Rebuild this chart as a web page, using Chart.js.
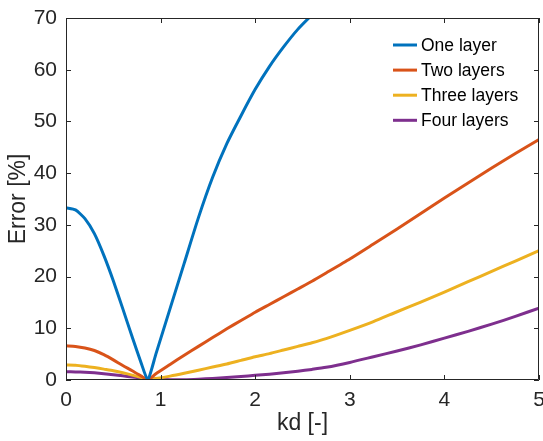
<!DOCTYPE html>
<html>
<head>
<meta charset="utf-8">
<script src="https://cdn.jsdelivr.net/npm/chart.js@4"></script>
<style>
  html, body { margin: 0; padding: 0; background: #fff; }
  #wrap { width: 543px; height: 441px; }
</style>
</head>
<body>
<div id="wrap"><canvas id="errChart" width="543" height="441"></canvas></div>
<script>
// kd values shared by all curves
const kd = [0, 0.1, 0.2, 0.3, 0.4, 0.5, 0.6, 0.7, 0.8, 0.864, 0.95, 1.1, 1.25, 1.4, 1.55, 1.7, 1.85, 2.0,
            2.15, 2.3, 2.45, 2.6, 2.75, 3.0, 3.25, 3.5, 3.75, 4.0, 4.25, 4.5, 4.75, 5.0];

// error [%] for each number of layers (one layer leaves the plot above 70)
const oneLayer = [33.3, 32.9, 31.2, 28.3, 24.1, 19.2, 13.8, 8.3, 3.0, 0, 5.0, 13.8, 22.6, 31.4, 39.2, 45.7, 51.1, 56.2,
                  60.6, 64.4, 67.8, 70.6, 73.2, null, null, null, null, null, null, null, null, null];
const twoLayers = [6.6, 6.5, 6.2, 5.7, 4.9, 3.9, 2.8, 1.8, 0.7, 0, 1.2, 3.0, 4.8, 6.5, 8.2, 9.9, 11.5, 13.1,
                   14.6, 16.1, 17.6, 19.1, 20.7, 23.4, 26.3, 29.2, 32.2, 35.2, 38.1, 41.0, 43.8, 46.5];
const threeLayers = [2.9, 2.85, 2.65, 2.4, 2.1, 1.8, 1.4, 0.95, 0.45, 0.1, 0.3, 0.75, 1.3, 1.9, 2.5, 3.1, 3.8, 4.5,
                     5.1, 5.8, 6.5, 7.2, 8.0, 9.6, 11.3, 13.2, 15.05, 17.0, 19.0, 21.0, 23.0, 25.0];
const fourLayers = [1.6, 1.57, 1.5, 1.38, 1.22, 1.02, 0.8, 0.58, 0.4, 0.3, 0.17, 0.05, 0.05, 0.15, 0.3, 0.48, 0.68, 0.9,
                    1.13, 1.4, 1.7, 2.05, 2.45, 3.4, 4.5, 5.6, 6.8, 8.1, 9.4, 10.8, 12.3, 13.9];

const seriesNames = ['One layer', 'Two layers', 'Three layers', 'Four layers'];
const seriesValues = [oneLayer, twoLayers, threeLayers, fourLayers];
const colors = ['#0072BD', '#D95319', '#EDB120', '#7E2F8E'];

const xTicks = [0, 1, 2, 3, 4, 5];
const yTicks = [0, 10, 20, 30, 40, 50, 60, 70];

const FONT = 'Arial, "Liberation Sans", Helvetica, sans-serif';

function toPoints(vals) {
    return vals.map((v, i) => ({ x: kd[i], y: v }));
}

// box round the axes with small ticks pointing inward (matlab style)
const boxTicks = {
    id: 'boxTicks',
    afterDraw(chart) {
        const { ctx, chartArea: a, scales } = chart;
        ctx.save();
        ctx.strokeStyle = '#262626';
        ctx.lineWidth = 1;
        ctx.beginPath();
        ctx.rect(a.left + 0.5, a.top + 0.5, a.right - a.left - 1, a.bottom - a.top - 1);
        const len = 5;
        xTicks.forEach(t => {
            const x = Math.round(scales.x.getPixelForValue(t)) + 0.5;
            ctx.moveTo(x, a.bottom); ctx.lineTo(x, a.bottom - len);
            ctx.moveTo(x, a.top); ctx.lineTo(x, a.top + len);
        });
        yTicks.forEach(t => {
            const y = Math.round(scales.y.getPixelForValue(t)) + 0.5;
            ctx.moveTo(a.left, y); ctx.lineTo(a.left + len, y);
            ctx.moveTo(a.right, y); ctx.lineTo(a.right - len, y);
        });
        ctx.stroke();
        ctx.restore();
    }
};

// legend drawn inside the plot, top right, no frame
const innerLegend = {
    id: 'innerLegend',
    afterDraw(chart) {
        const ctx = chart.ctx;
        ctx.save();
        ctx.font = '17.5px ' + FONT;
        ctx.textBaseline = 'middle';
        ctx.fillStyle = '#000';
        chart.data.datasets.forEach((ds, i) => {
            const y = 45 + i * 25.1;
            ctx.strokeStyle = ds.borderColor;
            ctx.lineWidth = 3;
            ctx.beginPath();
            ctx.moveTo(393, y); ctx.lineTo(417, y);
            ctx.stroke();
            ctx.fillText(ds.label, 421, y + 1);
        });
        ctx.restore();
    }
};

const ctx = document.getElementById('errChart').getContext('2d');
const errChart = new Chart(ctx, {
    type: 'line',
    data: {
        datasets: seriesNames.map((name, i) => ({
            label: name,
            data: toPoints(seriesValues[i]),
            borderColor: colors[i],
            backgroundColor: colors[i],
            borderWidth: 3,
            pointRadius: 0,
            tension: 0.2,
            spanGaps: false,
        })),
    },
    options: {
        responsive: false,
        animation: false,
        layout: { padding: { top: 18, right: 4, left: 0, bottom: 0 } },
        plugins: {
            legend: { display: false },
            tooltip: { enabled: false },
        },
        scales: {
            x: {
                type: 'linear',
                min: 0,
                max: 5,
                afterBuildTicks: (s) => { s.ticks = xTicks.map(v => ({ value: v })); },
                afterFit: (s) => { s.height = 61; s.paddingLeft = 0; s.paddingRight = 0; },
                grid: { display: false, drawTicks: false },
                border: { display: false },
                ticks: { color: '#262626', font: { size: 21, family: FONT }, padding: 8, maxRotation: 0 },
                title: { display: true, text: 'kd [-]', color: '#262626', font: { size: 23, family: FONT } },
            },
            y: {
                min: 0,
                max: 70,
                afterBuildTicks: (s) => { s.ticks = yTicks.map(v => ({ value: v })); },
                afterFit: (s) => { s.width = 66; s.paddingTop = 0; s.paddingBottom = 0; },
                grid: { display: false, drawTicks: false },
                border: { display: false },
                ticks: { color: '#262626', font: { size: 21, family: FONT }, padding: 9 },
                title: { display: true, text: 'Error [%]', color: '#262626', font: { size: 23, family: FONT }, padding: { top: 5, bottom: 0 } },
            },
        },
    },
    plugins: [boxTicks, innerLegend],
});
</script>
</body>
</html>
